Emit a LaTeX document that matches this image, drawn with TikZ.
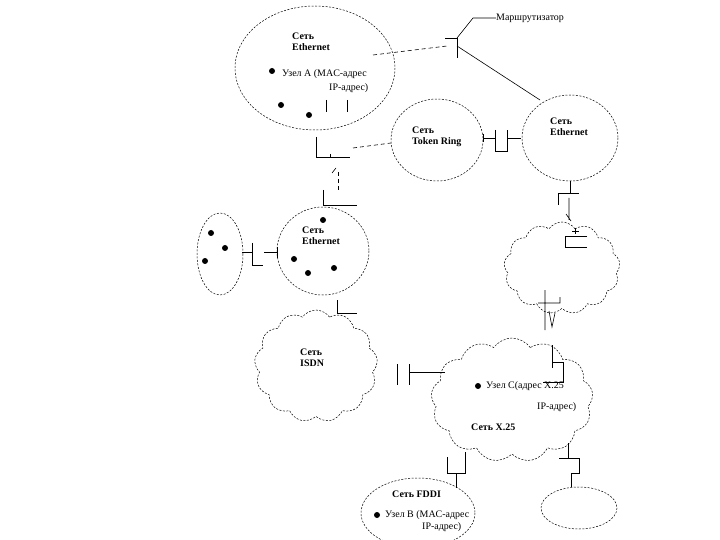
\documentclass[tikz,border=0pt]{standalone}
\usepackage{fontspec}
\setmainfont{Liberation Serif}
\usetikzlibrary{shapes.symbols}
\begin{document}
\begin{tikzpicture}[x=1bp,y=-1bp,
  net/.style={draw,dash pattern=on 2bp off 1.5bp,line width=0.5bp},
  wire/.style={draw,line width=0.6bp},
  dwire/.style={draw,line width=0.6bp,dash pattern=on 4bp off 3bp},
  dot/.style={circle,fill,inner sep=0pt,minimum size=6bp},
  lbl/.style={font=\fontsize{10}{11}\selectfont\bfseries,anchor=west,inner sep=0pt,align=left},
  txt/.style={font=\fontsize{10}{11}\selectfont,anchor=west,inner sep=0pt},
  cl/.style={cloud,net,cloud puffs=13,cloud puff arc=110,cloud ignores aspect,inner sep=0pt}]
\useasboundingbox (0,0) rectangle (720,540);
% top-left Ethernet
\draw[net] (315,68) ellipse [x radius=80,y radius=62];
\node[lbl] (e1) at (292,42) {Сеть\\Ethernet};
\node[dot] (a1) at (272,71) {};
\node[txt] (ua) at (282,74) {Узел A (MAC-адрес};
\node[txt] (ipa) at (329,88) {IP-адрес)};
\node[dot] (a2) at (281,105) {};
\node[dot] (a3) at (309,115) {};
\draw[wire] (326,100)--(326,112) (347,100)--(347,112);
% router
\node[txt] (rt) at (496,18) {Маршрутизатор};
\coordinate (r0) at (457,38);
\draw[wire] (rt.west)--(473,18)--(r0);
\draw[wire] (445,38)--(r0)--(457,58);
\draw[wire] (457,46)--(540,100);
\draw[dwire] (373,55)--(447,46);
% Token Ring
\draw[net] (437,140) ellipse [x radius=46,y radius=41];
\node[lbl] (tr) at (412,137) {Сеть\\Token Ring};
% right Ethernet
\draw[net] (570,138) ellipse [x radius=48,y radius=43];
\node[lbl] (e2) at (550,127) {Сеть\\Ethernet};
\draw[wire] (483,134)--(483,142) (483,138)--(495,138) (495,130)--(495,151)--(507,151)--(507,130) (507,138)--(521,138);
% below top ellipse
\draw[wire] (316,137)--(316,157)--(350,157) (330,154)--(330,157);
\draw[dwire] (353,148)--(391,143);
\draw[wire] (332,173)--(336,168);
\draw[dwire] (338,172)--(338,192);
\draw[wire] (323,190)--(323,205)--(357,205);
% middle Ethernet
\draw[net] (323,251) ellipse [x radius=46,y radius=44];
\node[lbl] (e3) at (302,236) {Сеть\\Ethernet};
\node[dot] (m1) at (323,220) {};
\node[dot] (m2) at (294,259) {};
\node[dot] (m3) at (308,273) {};
\node[dot] (m4) at (334,268) {};
% left small ellipse
\draw[net] (220,254) ellipse [x radius=23,y radius=41];
\node[dot] (l1) at (211,233) {};
\node[dot] (l2) at (225,248) {};
\node[dot] (l3) at (205,261) {};
\draw[wire] (242,252)--(252,252) (252,243)--(252,265)--(263,265) (264,252)--(277,252) (277,247)--(277,258);
% to ISDN
\draw[wire] (337,300)--(337,313)--(357,313);
\node[cl,minimum width=123bp,minimum height=112bp] (isdn) at (316,366) {};
\node[lbl] (is) at (300,358) {Сеть\\ISDN};
% right chain
\draw[wire] (570,181)--(570,193) (558,205)--(558,193)--(579,193);
\draw[wire] (569,198)--(569,220) (566,214)--(571,221);
\draw[wire] (587,236)--(565,236)--(565,247)--(587,247) (575,228)--(575,234) (572,231)--(579,231);
\node[cl,minimum width=116bp,minimum height=92bp] (c1) at (562,268) {};
\draw[wire] (545,290)--(545,330) (538,303)--(560,303)--(560,297) (549,311)--(552,327)--(555,313);
% to X.25
\draw[wire] (552,345)--(552,368) (552,362)--(563,362)--(563,382)--(543,382);
\node[cl,minimum width=162bp,minimum height=124bp] (x25) at (512,400) {};
\draw[wire] (397,364)--(397,385) (409,364)--(409,385) (409,372)--(445,372);
\node[dot] (c0) at (478,386) {};
\node[txt] (uc) at (486,386) {Узел C(адрес X.25};
\node[txt] (ipc) at (537,407) {IP-адрес)};
\node[lbl] (xs) at (471,427) {Сеть X.25};
% bottom
\draw[wire] (465,452)--(465,473)--(447,473)--(447,457) (456,473)--(456,488);
\draw[wire] (568,443)--(568,458) (559,458)--(579,458)--(579,473)--(571,473) (571,473)--(571,487);
\draw[net] (418,513) ellipse [x radius=57,y radius=35];
\node[lbl] (fd) at (392,494) {Сеть FDDI};
\node[dot] (b0) at (377,515) {};
\node[txt] (ub) at (385,515) {Узел B (MAC-адрес};
\node[txt] (ipb) at (422,527) {IP-адрес)};
\draw[net] (579,508) ellipse [x radius=38,y radius=21];
\end{tikzpicture}
\end{document}
